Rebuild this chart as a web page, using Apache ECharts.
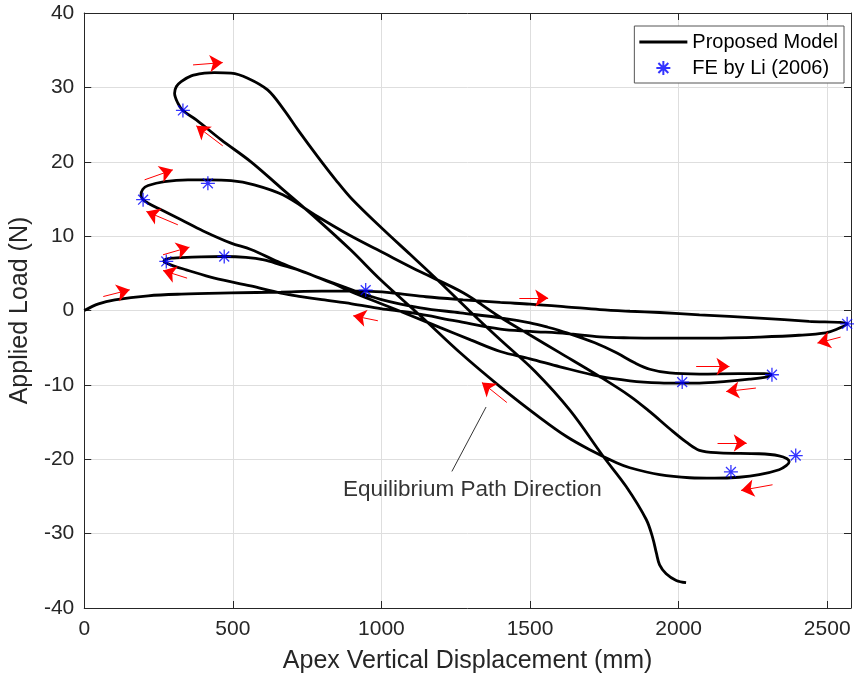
<!DOCTYPE html>
<html><head><meta charset="utf-8">
<script src="https://cdn.jsdelivr.net/npm/echarts@6/dist/echarts.min.js"></script>
<style>html,body{margin:0;padding:0;background:#fff}#c{width:854px;height:681px}</style>
</head><body><div id="c"></div>
<script>
// ---- axis ticks ----
const xTicks = [0, 500, 1000, 1500, 2000, 2500];
const yTicks = [-40, -30, -20, -10, 0, 10, 20, 30, 40];

// ---- Proposed Model: equilibrium path, branch by branch (x = displacement mm, y = load N) ----
const branchInitial = [[0,0],[48,0.9],[103,1.44],[215,1.98],[326,2.2],[494,2.36],[662,2.48],[800,2.6],[947,2.6],[1050,2.3],[1150,1.85],[1275,1.44],[1400,1.08],[1500,0.86],[1620,0.5],[1735,0.12],[1836,-0.1],[1936,-0.27],[2070,-0.58],[2271,-1.02],[2439,-1.45],[2567,-1.79]];
const branchB = [[2530,-2.55],[2495,-3.0],[2405,-3.33],[2271,-3.58],[2170,-3.68],[2070,-3.72],[1936,-3.72],[1836,-3.68],[1735,-3.55],[1623,-3.1],[1500,-2.8],[1400,-2.5],[1250,-1.4],[1100,-0.3],[997,0.25],[900,0.9],[800,1.45],[729,1.88],[662,2.34],[560,3.3],[438,4.35],[343,5.47],[300,6.0],[278,6.35],[268,6.6]];
const branch1Up = [[276,6.9],[300,7.05],[326,7.12],[393,7.22],[471,7.26],[544,7.15],[605,6.81],[662,6.14],[729,5.34],[786,4.45],[896,2.85],[997,1.5],[1131,0.36],[1265,-0.31],[1400,-0.98],[1500,-1.65],[1560,-2.25],[1624,-3.0],[1718,-4.34],[1791,-5.69],[1852,-7.03],[1903,-7.9],[1970,-8.4],[2070,-8.55],[2204,-8.5],[2288,-8.5],[2311,-8.64]];
const branch1Down = [[2298,-8.91],[2238,-9.24],[2161,-9.54],[2070,-9.76],[2012,-9.76],[1936,-9.72],[1836,-9.45],[1735,-8.87],[1601,-7.57],[1500,-6.49],[1400,-5.51],[1300,-3.95],[1198,-2.3],[1100,-0.7],[997,0.95],[900,2.5],[840,3.6],[750,5.0],[662,6.37],[561,8.2],[494,9.06],[400,10.7],[326,12.19],[259,13.53],[215,14.43],[198,14.9],[191,15.5]];
const branch2Up = [[197,16.3],[215,16.8],[270,17.34],[349,17.57],[416,17.57],[494,17.47],[572,16.9],[668,15.55],[785,12.63],[896,10.04],[1008,7.72],[1131,5.2],[1275,2.38],[1400,-0.9],[1500,-3.3],[1601,-5.7],[1735,-8.9],[1836,-11.5],[1903,-13.6],[1970,-15.9],[2026,-17.7],[2070,-18.8],[2137,-19.13],[2271,-19.26],[2338,-19.53],[2365,-19.93],[2372,-20.34]];
const branch2Down = [[2362,-20.87],[2338,-21.41],[2271,-22.08],[2204,-22.42],[2121,-22.55],[2037,-22.49],[1936,-22.08],[1836,-21.14],[1791,-20.47],[1701,-18.72],[1624,-16.98],[1534,-14.43],[1400,-10.26],[1265,-5.69],[1131,-0.71],[997,4.13],[896,8.16],[786,12.19],[662,16.49],[561,19.99],[461,22.94],[377,25.63],[332,26.88],[315,27.88]];
const branch3 = [[304,29.22],[310,30.11],[326,30.78],[360,31.55],[404,31.91],[438,31.99],[494,31.91],[550,31.24],[617,29.66],[672,26.98],[719,24.29],[786,20.66],[846,17.57],[903,14.88],[1007,10.85],[1098,7.49],[1188,4.13],[1299,-0.17],[1400,-3.94],[1517,-8.2],[1634,-13.4],[1746,-19.6],[1824,-23.7],[1891,-28.1],[1913,-30.6],[1925,-32.6],[1936,-34.2],[1958,-35.4],[1992,-36.3],[2025,-36.6]];

// ---- FE by Li (2006) ----
const feX = [332, 198, 416, 276, 471, 947, 2567, 2314, 2012, 2394, 2176];
const feY = [26.9, 14.9, 17.1, 6.6, 7.26, 2.74, -1.79, -8.64, -9.63, -19.5, -21.7];

// ---- red direction arrows: tail (x1,y1) -> head (x2,y2) ----
const arrowX1 = [64, 203, 315, 265, 346, 366, 466, 1464, 988, 1422, 2059, 2260, 2131, 2316, 2545];
const arrowY1 = [1.88, 17.57, 11.52, 7.49, 4.35, 33.02, 22.14, 1.67, -1.38, -12.37, -7.53, -10.43, -17.82, -23.43, -3.58];
const arrowX2 = [153, 298, 209, 354, 265, 466, 377, 1561, 905, 1338, 2171, 2160, 2229, 2210, 2467];
const arrowY2 = [2.78, 18.91, 13.31, 8.52, 5.38, 33.33, 24.83, 1.67, -0.71, -9.68, -7.53, -10.89, -17.82, -24.19, -4.38];

// ---- text annotation ----
const noteText = 'Equilibrium Path Direction';
const notePos = [1306, -24.1];
const notePointer = [[1237, -21.64], [1352, -12.98]];

const font = "'Liberation Sans', Arial, Helvetica, sans-serif";
const axisColor = '#262626';
const modelPath = [].concat(branchInitial, branchB, branch1Up, branch1Down, branch2Up, branch2Down, branch3);
const fePoints = feX.map((x, i) => [x, feY[i]]);
const arrows = arrowX1.map((x, i) => ({coords: [[x, arrowY1[i]], [arrowX2[i], arrowY2[i]]]}));
const starPath = 'path://M0,-10L0,10M-10,0L10,0M-7.07,-7.07L7.07,7.07M-7.07,7.07L7.07,-7.07';

const chart = echarts.init(document.getElementById('c'), null, {renderer: 'canvas'});
const baseX = {
  type: 'value', min: 0, max: 2580, interval: 500,
  axisLine: {show: true, onZero: false, lineStyle: {color: axisColor, width: 1}},
  axisTick: {show: true, inside: true, length: 7, lineStyle: {color: axisColor}},
};
const baseY = {
  type: 'value', min: -40, max: 40, interval: 10,
  axisLine: {show: true, onZero: false, lineStyle: {color: axisColor, width: 1}},
  axisTick: {show: true, inside: true, length: 7, lineStyle: {color: axisColor}},
};
chart.setOption({
  animation: false,
  backgroundColor: '#fff',
  textStyle: {fontFamily: font},
  grid: {left: 83, right: 2, top: 13, bottom: 73, containLabel: false},
  xAxis: [
    Object.assign({}, baseX, {
      position: 'bottom',
      axisLabel: {show: true, margin: 11, fontSize: 21, color: axisColor, fontFamily: font,
        formatter: v => xTicks.indexOf(v) >= 0 ? String(v) : ''},
      splitLine: {show: true, showMinLine: false, showMaxLine: false, lineStyle: {color: '#dedede', width: 1}},
      name: 'Apex Vertical Displacement (mm)', nameLocation: 'middle', nameGap: 41,
      nameTextStyle: {fontSize: 25, color: axisColor, fontFamily: font}
    }),
    Object.assign({}, baseX, {position: 'top', axisLabel: {show: false}, splitLine: {show: false}})
  ],
  yAxis: [
    Object.assign({}, baseY, {
      position: 'left',
      axisLabel: {show: true, margin: 10, fontSize: 21, color: axisColor, fontFamily: font,
        formatter: v => yTicks.indexOf(v) >= 0 ? String(v) : ''},
      splitLine: {show: true, showMinLine: false, showMaxLine: false, lineStyle: {color: '#dedede', width: 1}},
      name: 'Applied Load (N)', nameLocation: 'middle', nameGap: 46, nameRotate: 90,
      nameTextStyle: {fontSize: 25, color: axisColor, fontFamily: font}
    }),
    Object.assign({}, baseY, {position: 'right', axisLabel: {show: false}, splitLine: {show: false}})
  ],
  legend: {
    orient: 'vertical', right: 10, top: 26,
    backgroundColor: '#fff', borderColor: '#555', borderWidth: 1,
    padding: [6, 6, 5, 5], itemWidth: 48, itemHeight: 14, itemGap: 6,
    textStyle: {fontSize: 20, color: '#000', fontFamily: font},
    data: [
      {name: 'Proposed Model', icon: 'path://M0,0L48,0L48,2.8L0,2.8Z', itemStyle: {color: '#000'}},
      {name: 'FE by Li (2006)'}
    ]
  },
  series: [
    {
      name: 'Proposed Model', type: 'line', data: modelPath,
      showSymbol: false, symbol: 'none', smooth: 0.35,
      lineStyle: {color: '#000', width: 2.8}, itemStyle: {color: '#000'}, z: 3
    },
    {
      name: 'FE by Li (2006)', type: 'scatter', data: fePoints,
      symbol: starPath, symbolSize: 14,
      itemStyle: {color: 'rgba(0,0,0,0)', borderColor: '#0000ff', borderWidth: 1.3}, z: 5
    },
    {
      name: 'arrows', type: 'lines', coordinateSystem: 'cartesian2d', data: arrows,
      symbol: ['none', 'arrow'], symbolSize: 13,
      lineStyle: {color: '#ff0000', width: 1, opacity: 1, curveness: 0}, z: 6, silent: true
    },
    {
      name: 'pointer', type: 'lines', coordinateSystem: 'cartesian2d', data: [{coords: notePointer}],
      symbol: 'none', lineStyle: {color: '#000', width: 0.8, opacity: 1}, z: 6, silent: true
    },
    {
      name: 'note', type: 'scatter', data: [notePos], symbolSize: 0, silent: true,
      label: {show: true, position: 'inside', formatter: noteText, fontSize: 22.5, color: '#000', fontFamily: font}, z: 6
    }
  ]
});
</script>
</body></html>
